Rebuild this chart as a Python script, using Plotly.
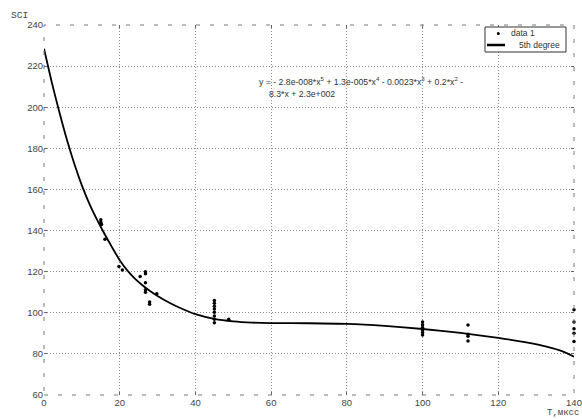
import plotly.graph_objects as go

# measured data ("data 1")
data_x = [15.0, 15.0, 15.2, 16.1,
          19.8, 20.7,
          25.4, 26.8, 26.8, 26.8, 26.8, 26.8, 29.8, 27.9, 27.9,
          45, 45, 45, 45, 45, 45, 45, 45,
          48.8,
          100, 100, 100, 100, 100, 100,
          112, 112, 112, 112,
          140, 140, 140, 140, 140]
data_y = [145.2, 144.0, 143.0, 135.8,
          122.5, 120.8,
          117.6, 120.0, 119.0, 114.6, 111.2, 110.0, 109.2, 105.2, 104.2,
          106.0, 104.6, 103.2, 101.8, 100.2, 98.4, 96.8, 95.2,
          96.8,
          95.5, 94.2, 92.8, 91.6, 90.4, 89.2,
          94.0, 89.5, 88.6, 86.3,
          101.5, 95.5, 92.2, 90.0, 86.0]

# 5th degree fit curve
fit_x = [0, 2, 4, 6, 8, 10, 12, 14, 16, 18, 20, 22, 24, 26, 28, 30, 33, 36, 40, 45, 50, 55, 60,
         70, 80, 90, 100, 110, 120, 127, 133, 137, 140]
fit_y = [228.5, 212.5, 198.0, 184.5, 172.5, 162.0, 153.0, 145.3, 138.3, 131.8, 125.6, 120.6, 116.6,
         113.4, 110.6, 108.2, 105.0, 102.3, 99.3, 97.0, 95.8, 95.2, 95.0,
         94.9, 94.6, 93.6, 92.1, 90.2, 87.8, 85.7, 83.4, 81.2, 78.6]

x_ticks = [0, 20, 40, 60, 80, 100, 120, 140]
y_ticks = [60, 80, 100, 120, 140, 160, 180, 200, 220, 240]

legend_labels = ["data 1", "5th degree"]
eq_line1 = "y = - 2.8e-008*x<sup>5</sup> + 1.3e-005*x<sup>4</sup> - 0.0023*x<sup>3</sup> + 0.2*x<sup>2</sup> -"
eq_line2 = "8.3*x + 2.3e+002"

W, H = 582, 419
ML, MR, MT, MB = 44, 8, 25, 24
PW, PH = W - ML - MR, H - MT - MB


def px(x):
    return (x - ML) / PW


def py(y):
    return 1 - (y - MT) / PH


fig = go.Figure()
fig.add_trace(go.Scatter(x=data_x, y=data_y, mode="markers", name=legend_labels[0],
                         marker=dict(color="black", size=3.5), showlegend=False, cliponaxis=False))
fig.add_trace(go.Scatter(x=fit_x, y=fit_y, mode="lines", name=legend_labels[1],
                         line=dict(color="black", width=1.8, shape="spline", smoothing=0.6),
                         showlegend=False))

grid = dict(showgrid=True, gridcolor="#8a8a8a", griddash="1px,2px", gridwidth=1,
            zeroline=False, showline=False, ticks="inside", ticklen=3,
            tickcolor="#666", mirror="ticks",
            tickfont=dict(family="Liberation Sans", size=9.5, color="#444"))

fig.update_xaxes(range=[0, 140], tickvals=x_ticks, ticktext=[str(v) for v in x_ticks], **grid)
fig.update_yaxes(range=[60, 240], tickvals=y_ticks, ticktext=[str(v) for v in y_ticks], **grid)

# dashed axes box
fig.add_shape(type="rect", xref="paper", yref="paper", x0=0, x1=1, y0=0, y1=1,
              line=dict(color="#777", width=1, dash="4px,10px"))

# legend box (drawn by hand to match the compact original)
fig.add_shape(type="rect", xref="paper", yref="paper", x0=px(485), x1=px(566), y0=py(52), y1=py(27),
              line=dict(color="#333", width=1), fillcolor="white", layer="above")
fig.add_shape(type="circle", xref="paper", yref="paper", x0=px(496.8), x1=px(499.8), y0=py(35), y1=py(32),
              line=dict(color="black", width=0), fillcolor="black", layer="above")
fig.add_shape(type="line", xref="paper", yref="paper", x0=px(487), x1=px(505), y0=py(45), y1=py(45),
              line=dict(color="black", width=2.5), layer="above")
fig.add_annotation(xref="paper", yref="paper", x=px(509), y=py(33.5), text=legend_labels[0],
                   showarrow=False, xanchor="left", yanchor="middle",
                   font=dict(family="Liberation Sans", size=8.5, color="#333"))
fig.add_annotation(xref="paper", yref="paper", x=px(517), y=py(45), text=legend_labels[1],
                   showarrow=False, xanchor="left", yanchor="middle",
                   font=dict(family="Liberation Sans", size=8.5, color="#333"))

fig.add_annotation(xref="paper", yref="paper", x=px(9), y=py(15), text="SCI",
                   showarrow=False, xanchor="left", yanchor="middle",
                   font=dict(family="Liberation Mono", size=9.5, color="#444"))
fig.add_annotation(xref="paper", yref="paper", x=px(581), y=py(413), text="T,мксс",
                   showarrow=False, xanchor="right", yanchor="middle",
                   font=dict(family="Liberation Mono", size=9, color="#444"))
fig.add_annotation(x=56.3, y=212.7, text=eq_line1, showarrow=False, xanchor="left", yanchor="middle",
                   font=dict(family="Liberation Sans", size=8.7, color="#333"))
fig.add_annotation(x=59.0, y=206.4, text=eq_line2, showarrow=False, xanchor="left", yanchor="middle",
                   font=dict(family="Liberation Sans", size=8.7, color="#333"))

fig.update_layout(
    width=W, height=H,
    margin=dict(l=ML, r=MR, t=MT, b=MB, autoexpand=False),
    paper_bgcolor="white", plot_bgcolor="white",
    showlegend=False,
)

fig.write_html("out.html", config={"displayModeBar": False},
               post_script="document.body.style.margin='0';")
